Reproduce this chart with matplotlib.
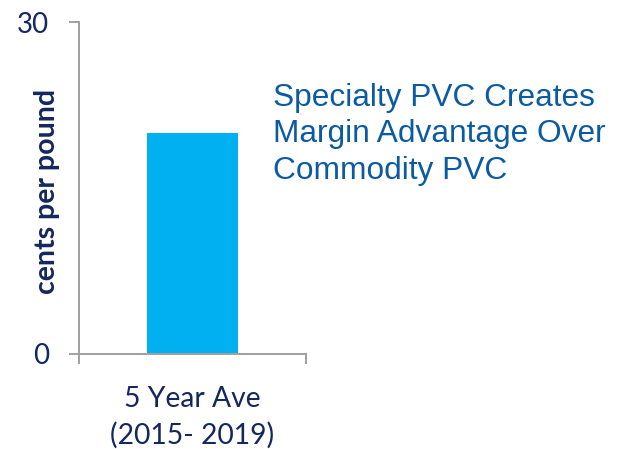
import matplotlib
matplotlib.use("Agg")
import matplotlib.pyplot as plt

categories = ["5 Year Ave\n(2015- 2019)"]
values = [20]
y_ticks = [0, 30]
note = "Specialty PVC Creates\nMargin Advantage Over\nCommodity PVC"

navy = "#14275E"
fig = plt.figure(figsize=(6.25, 4.49), dpi=100)
ax = fig.add_axes([0.1264, 0.2116, 0.3632, 0.7394])

x = list(range(len(categories)))
ax.bar(x, values, width=0.405, color="#00B0F0", zorder=2)
ax.set_xlim(-0.5, len(categories) - 0.5)
ax.set_ylim(y_ticks[0], y_ticks[-1])

for s in ["top", "right"]:
    ax.spines[s].set_visible(False)
for s in ["left", "bottom"]:
    ax.spines[s].set_color("#A0A0A0")
    ax.spines[s].set_linewidth(1.4)

ax.set_yticks(y_ticks)
ax.set_yticklabels([str(v) for v in y_ticks], fontsize=20, color=navy, family="Lato")
ax.tick_params(axis="y", length=7.5, width=1.4, color="#A0A0A0", direction="out", pad=14)

# category boundaries get ticks, labels sit in the middle
ax.set_xticks([i - 0.5 for i in range(len(categories) + 1)])
ax.set_xticklabels([])
ax.set_xticks(x, minor=True)
ax.set_xticklabels(categories, minor=True, fontsize=20.3, color=navy, family="Lato",
                   linespacing=1.45)
ax.tick_params(axis="x", which="major", length=7.5, width=1.4, color="#A0A0A0")
ax.tick_params(axis="x", which="minor", length=0, pad=23)

ax.set_ylabel("cents per pound", fontsize=20.5, fontweight="bold", color=navy, family="Lato")
ax.yaxis.set_label_coords(-0.084, 0.489)

fig.text(273 / 625, 1 - 83 / 449, note, ha="left", va="top", fontsize=22.8,
         color="#0A5AA4", family="Liberation Sans", linespacing=1.28)

fig.savefig("out.png", dpi=100)
